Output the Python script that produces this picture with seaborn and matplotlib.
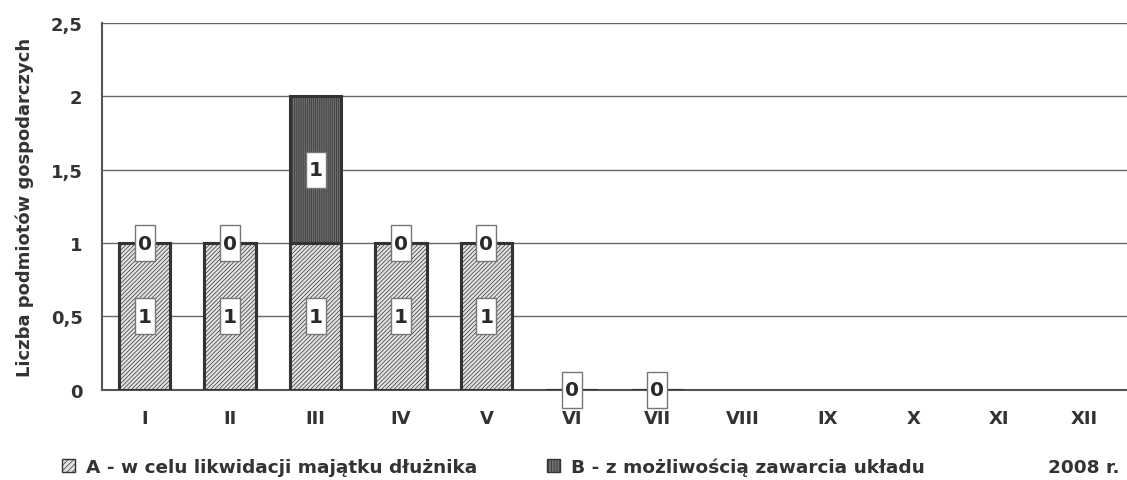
import numpy as np
import pandas as pd
import matplotlib
matplotlib.use("Agg")
import matplotlib.pyplot as plt
import matplotlib.transforms as mtransforms
import seaborn as sns
from matplotlib.patches import Patch, Rectangle

sns.set_theme(style="white")
plt.rcParams["font.family"] = ["DejaVu Sans"]
plt.rcParams["font.weight"] = "bold"
plt.rcParams["hatch.linewidth"] = 0.5

# -------------------------------------------------------
# data
# -------------------------------------------------------

months = ["I", "II", "III", "IV", "V", "VI", "VII", "VIII", "IX", "X", "XI", "XII"]
a_vals = [1, 1, 1, 1, 1, 0, 0, np.nan, np.nan, np.nan, np.nan, np.nan]
b_vals = [0, 0, 1, 0, 0, np.nan, np.nan, np.nan, np.nan, np.nan, np.nan, np.nan]

label_a = "A - w celu likwidacji majątku dłużnika"
label_b = "B - z możliwością zawarcia układu"

df = pd.DataFrame({"month": months, "A": a_vals, "B": b_vals})
df["total"] = df["A"] + df["B"].fillna(0)
df.loc[df["A"].isna(), "total"] = np.nan

EDGE = "#333333"
FACE_A = "#e2e2e2"
FACE_B = "#6e6e6e"
TXT = "#333333"

fig = plt.figure(figsize=(11.27, 4.81), dpi=100)
ax = fig.add_axes([102 / 1127, 1 - 390.7 / 481, 1 - 102 / 1127, (390.7 - 24) / 481])

# stacked look: totals in B style, A drawn over them
sns.barplot(data=df, x="month", y="total", order=months, color=FACE_B,
            width=0.6, edgecolor=EDGE, linewidth=2.2, hatch="||||||||",
            saturation=1, ax=ax, zorder=3)
sns.barplot(data=df, x="month", y="A", order=months, color=FACE_A,
            width=0.6, edgecolor=EDGE, linewidth=2.2, hatch="////////",
            saturation=1, ax=ax, zorder=4)


def value_box(x, y, txt):
    # fixed-size white box (in inches) centred on the data point
    trans = fig.dpi_scale_trans + mtransforms.ScaledTranslation(x, y, ax.transData)
    ax.add_patch(Rectangle((-0.10, -0.18), 0.20, 0.36, transform=trans,
                           facecolor="white", edgecolor="#777777", linewidth=1,
                           zorder=6, clip_on=False))
    ax.text(x, y, txt, ha="center", va="center", fontsize=14.5, fontweight="bold",
            color="#2a2a2a", zorder=7)


for i, (a, b) in enumerate(zip(a_vals, b_vals)):
    if np.isnan(a):
        continue
    value_box(i, a / 2 if a > 0 else 0, f"{a:g}")
    if not np.isnan(b):
        value_box(i, a + b / 2 if b > 0 else a, f"{b:g}")

ax.set_ylim(0, 2.5)
ax.set_xlim(-0.5, 11.5 - 10 / 86.2)
ax.set_yticks([0, 0.5, 1, 1.5, 2, 2.5])
ax.set_yticklabels(["0", "0,5", "1", "1,5", "2", "2,5"])
ax.yaxis.grid(True, color="#666666", linewidth=1)
ax.set_axisbelow(True)

# ticks between categories on the x axis
ax.set_xticks(np.arange(len(months)))
ax.set_xticklabels(months)
ax.set_xticks(np.arange(len(months)) + 0.5, minor=True)
ax.tick_params(axis="x", which="major", length=0, pad=14, labelsize=13, colors=TXT)
ax.tick_params(axis="x", which="minor", direction="out", length=6, width=1.2, color="#555555")
ax.tick_params(axis="y", direction="out", length=6, width=1.2, color="#555555",
               labelsize=13, labelcolor=TXT, pad=8)

for side in ["top", "right"]:
    ax.spines[side].set_visible(False)
for side in ["left", "bottom"]:
    ax.spines[side].set_color("#555555")
    ax.spines[side].set_linewidth(1.5)

ax.set_xlabel("")
ax.set_ylabel("Liczba podmiotów gospodarczych", fontsize=13, fontweight="bold",
              color=TXT, labelpad=12)

handles = [
    Patch(facecolor=FACE_A, edgecolor=EDGE, hatch="//////", linewidth=1, label=label_a),
    Patch(facecolor=FACE_B, edgecolor=EDGE, hatch="||||||", linewidth=1, label=label_b),
]
fig.legend(handles=handles, loc="center left", bbox_to_anchor=(62 / 1127, 1 - 468 / 481),
           ncol=2, frameon=False, fontsize=13.3, handlelength=0.7, handleheight=0.7,
           handletextpad=0.6, columnspacing=3.8, borderpad=0, borderaxespad=0,
           labelcolor=TXT)
fig.text(1120 / 1127, 1 - 468 / 481, "2008 r.", ha="right", va="center",
         fontsize=13.3, fontweight="bold", color=TXT)

fig.savefig("out.png", dpi=100)
